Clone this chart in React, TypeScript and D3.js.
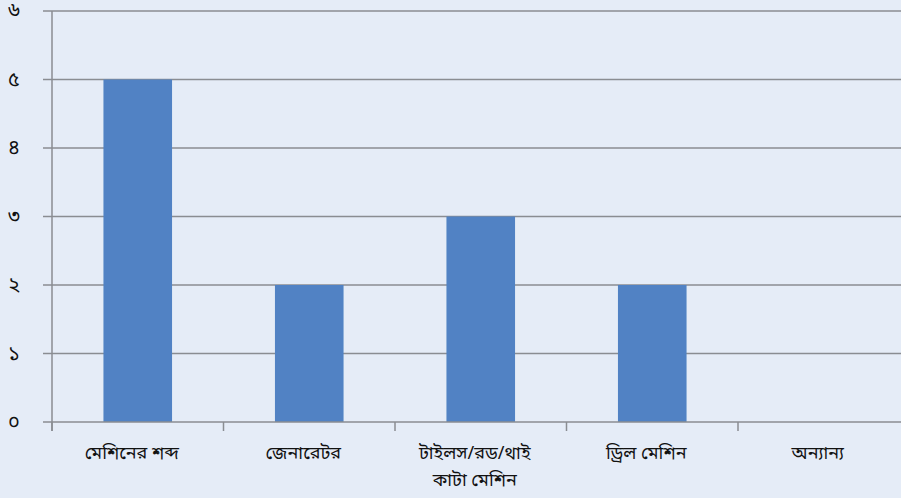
import React from "react";
import * as d3 from "d3";

const categories: string[][] = [
  ["মেশিনের শব্দ"],
  ["জেনারেটর"],
  ["টাইলস/রড/থাই", "কাটা মেশিন"],
  ["ড্রিল মেশিন"],
  ["অন্যান্য"],
];
const values: number[] = [5, 2, 3, 2, 0];
const yTicks: number[] = [0, 1, 2, 3, 4, 5, 6];
const yTickLabels: string[] = ["০", "১", "২", "৩", "৪", "৫", "৬"];

const W = 901;
const H = 498;
const left = 52;
const right = 909.5;
const top = 11;
const bottom = 422;

export default function App() {
  const x = d3
    .scaleBand<number>()
    .domain(categories.map((_, i) => i))
    .range([left, right])
    .paddingInner(0.6)
    .paddingOuter(0.3);
  const xb = d3.scaleLinear().domain([0, categories.length]).range([left, right]);
  const y = d3.scaleLinear().domain([0, 6]).range([bottom, top]);
  const grid = "#8a8d92";
  const font = "'Noto Sans Bengali', 'Noto Serif Bengali', 'Lohit Bengali', 'Noto Sans', sans-serif";
  return (
    <svg
      width={W}
      height={H}
      style={{ position: "absolute", left: 0, top: 0, background: "#e5ecf7" }}
    >
      <rect x={0} y={0} width={W} height={H} fill="#e5ecf7" />
      {yTicks.map((t) => (
        <g key={t}>
          {t > 0 && (
            <line x1={left} x2={W} y1={y(t)} y2={y(t)} stroke={grid} strokeWidth={1.5} />
          )}
          <line x1={43} x2={left} y1={y(t)} y2={y(t)} stroke={grid} strokeWidth={1.5} />
          <text
            x={14}
            y={y(t)}
            dy="0.3em"
            textAnchor="middle"
            fontFamily={font}
            fontSize={20}
            fill="#111"
          >
            {yTickLabels[t]}
          </text>
        </g>
      ))}
      {values.map((v, i) => (
        <rect
          key={i}
          x={x(i)}
          y={y(v)}
          width={x.bandwidth()}
          height={bottom - y(v)}
          fill="#5182c4"
        />
      ))}
      <line x1={left} x2={left} y1={top} y2={bottom + 9} stroke={grid} strokeWidth={1.5} />
      <line x1={left} x2={W} y1={bottom} y2={bottom} stroke={grid} strokeWidth={1.5} />
      {d3.range(categories.length + 1).map((i) => (
        <line key={i} x1={xb(i)} x2={xb(i)} y1={bottom} y2={bottom + 9} stroke={grid} strokeWidth={1.5} />
      ))}
      {categories.map((lines, i) => {
        const cx = (x(i) as number) + x.bandwidth() / 2 - 6;
        return (
          <text
            key={i}
            x={cx}
            y={459}
            textAnchor="middle"
            fontFamily={font}
            fontSize={18}
            fill="#111"
          >
            {lines.map((l, j) => (
              <tspan key={j} x={cx} dy={j === 0 ? 0 : 27}>
                {l}
              </tspan>
            ))}
          </text>
        );
      })}
    </svg>
  );
}
